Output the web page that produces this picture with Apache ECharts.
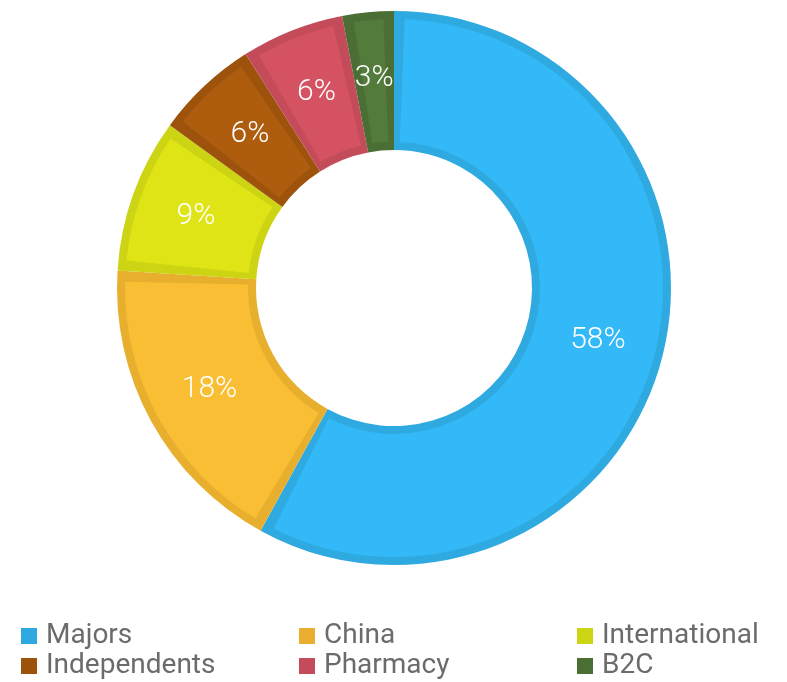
<!DOCTYPE html>
<html>
<head>
<meta charset="utf-8">
<script src="https://cdn.jsdelivr.net/npm/echarts@6/dist/echarts.min.js"></script>
<style>
html,body{margin:0;padding:0;background:#fff;}
#chart{width:787px;height:682px;}
</style>
</head>
<body>
<div id="chart"></div>
<script>
const categories = ['Majors', 'China', 'International', 'Independents', 'Pharmacy', 'B2C'];
const values = [58, 18, 9, 6, 6, 3];
const lightColors = ['#33B9F8', '#F9BE33', '#DEE415', '#AE5C0E', '#D55262', '#537B3C'];
const darkColors = ['#2EAAE1', '#E8AF2F', '#CCD414', '#9E530C', '#C34B5A', '#4A6E33'];

const chart = echarts.init(document.getElementById('chart'));
const center = [394, 288];

const legendPos = [[21, 622], [299, 622], [577, 622], [21, 652], [299, 652], [577, 652]];
const legends = categories.map((c, i) => ({
  data: [c],
  left: legendPos[i][0],
  top: legendPos[i][1],
  padding: 0,
  orient: 'horizontal',
  itemWidth: 16,
  itemHeight: 16,
  itemGap: 0,
  icon: 'rect',
  selectedMode: false,
  textStyle: {
    color: '#6b6b6b',
    fontSize: 28,
    fontFamily: 'Roboto',
    padding: [12, 0, 0, 4]
  }
}));

chart.setOption({
  animation: false,
  legend: legends,
  series: [
    {
      type: 'pie',
      name: 'border',
      center: center,
      radius: [138, 277],
      startAngle: 90,
      clockwise: true,
      silent: true,
      label: { show: false },
      labelLine: { show: false },
      data: categories.map((c, i) => ({ name: c, value: values[i], itemStyle: { color: darkColors[i] } }))
    },
    {
      type: 'pie',
      name: 'fill',
      center: center,
      radius: [146, 269],
      startAngle: 90,
      clockwise: true,
      padAngle: 4.5,
      silent: true,
      legendHoverLink: false,
      label: {
        show: true,
        position: 'inside',
        formatter: '{c}%',
        color: '#ffffff',
        fontSize: 30,
        fontFamily: 'Roboto',
        fontWeight: 300
      },
      labelLine: { show: false },
      data: categories.map((c, i) => ({ name: c, value: values[i], itemStyle: { color: lightColors[i] } }))
    }
  ]
});
</script>
</body>
</html>
